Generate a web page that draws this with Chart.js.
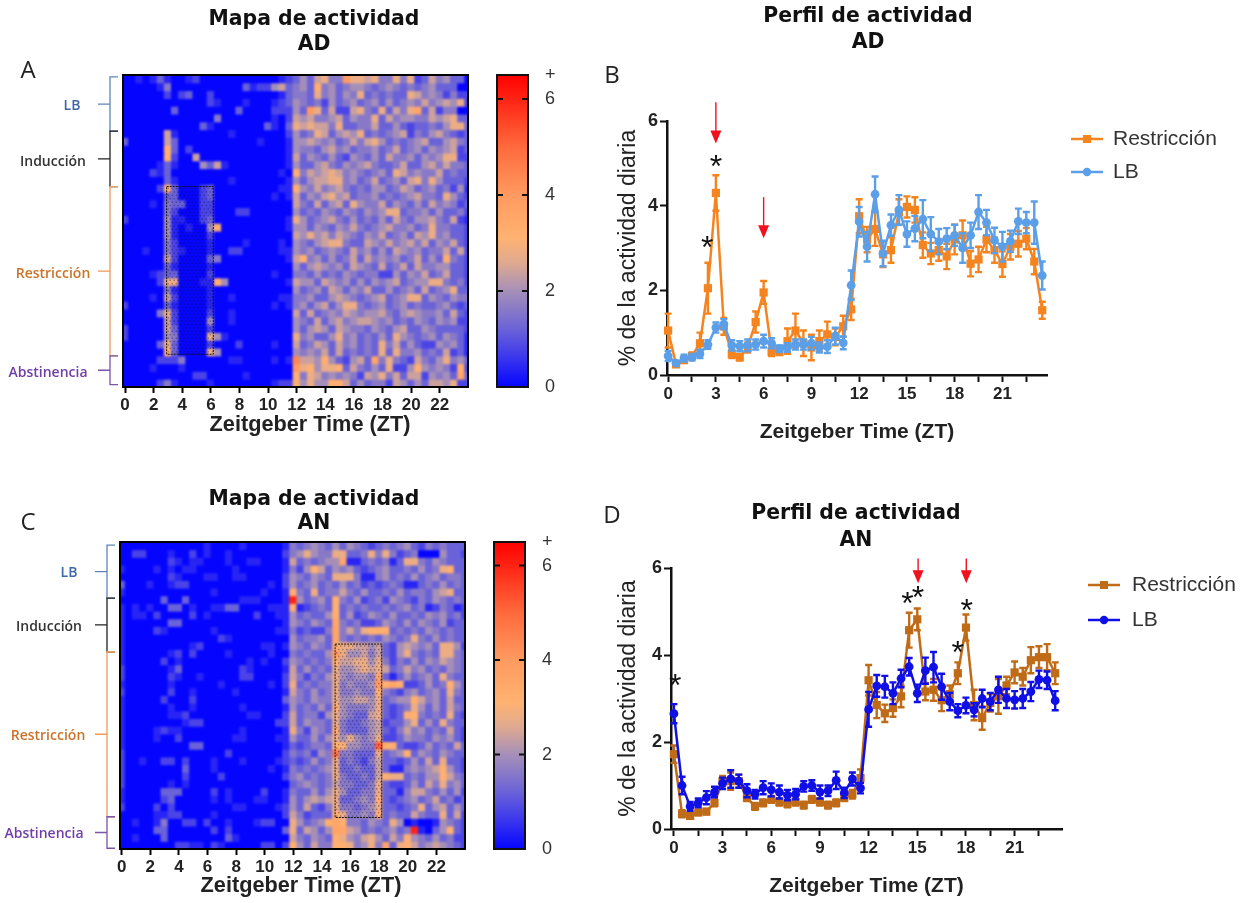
<!DOCTYPE html>
<html>
<head>
<meta charset="utf-8">
<script src="https://cdn.jsdelivr.net/npm/chart.js@4"></script>
<style>
html,body{margin:0;padding:0;background:#fff;overflow:hidden}
#page{position:relative;width:1247px;height:903px;filter:blur(.45px)}
canvas{position:absolute}
.t{position:absolute;white-space:nowrap;transform:translate(-50%,-50%);color:#111;line-height:1}
.title{font:bold 20.4px "DejaVu Sans"}
.panel{font:24px "Open Sans";color:#222}
.grp{font:600 14px "Open Sans"}
</style>
</head>
<body>
<div id="page">
<div class="t title" style="left:314px;top:18px">Mapa de actividad</div>
<div class="t title" style="left:314px;top:43px">AD</div>
<div class="t title" style="left:868px;top:15px">Perfil de actividad</div>
<div class="t title" style="left:868px;top:41px">AD</div>
<div class="t title" style="left:314px;top:498px">Mapa de actividad</div>
<div class="t title" style="left:314px;top:522px">AN</div>
<div class="t title" style="left:856px;top:512px">Perfil de actividad</div>
<div class="t title" style="left:856px;top:539px">AN</div>
<div class="t panel" style="left:28px;top:68px">A</div>
<div class="t panel" style="left:612px;top:73px">B</div>
<div class="t panel" style="left:28px;top:520px">C</div>
<div class="t panel" style="left:612px;top:513px">D</div>
<div class="t grp" style="left:72px;top:104px;color:#3f66a6">LB</div>
<div class="t grp" style="left:53px;top:160px;color:#333">Inducción</div>
<div class="t grp" style="left:53px;top:272px;color:#c8742a">Restricción</div>
<div class="t grp" style="left:48px;top:371px;color:#6f3fa5">Abstinencia</div>
<div class="t grp" style="left:69px;top:571px;color:#3f66a6">LB</div>
<div class="t grp" style="left:49px;top:625px;color:#333">Inducción</div>
<div class="t grp" style="left:48px;top:734px;color:#c8742a">Restricción</div>
<div class="t grp" style="left:44px;top:832px;color:#6f3fa5">Abstinencia</div>
<canvas id="heatA"></canvas>
<canvas id="barA"></canvas>
<canvas id="lineB"></canvas>
<canvas id="heatC"></canvas>
<canvas id="barC"></canvas>
<canvas id="lineD"></canvas>
</div>
<script>
// half-hour bins, the first and last bin are cut by the frame
const heatHours = [0,.5,1,1.5,2,2.5,3,3.5,4,4.5,5,5.5,6,6.5,7,7.5,8,8.5,9,9.5,10,10.5,11,11.5,12,12.5,13,13.5,14,14.5,15,15.5,16,16.5,17,17.5,18,18.5,19,19.5,20,20.5,21,21.5,22,22.5,23,23.5,24];
const heatTicks = [0,2,4,6,8,10,12,14,16,18,20,22];

// one hex digit per cell, digit x 0.4 = % of daily activity
const heatARows = [
"001013 100120 000000 000012 3536744a776744 7472364 5 3 3",
"000001 400000 000003 122563 4538453455434 5434 3 4 5 3 3 3",
"000000 202300 200000 000013 4437453547343 4 3 3 7 6 4 5 4 2 4 2 2",
"000000 000000 210001 000123 5434253453453 5 3 4 5 4 6 4 5 6 5 7 2",
"000000 030000 000030 000222 53a7362267437 3 6 4 7 9 3 6 2 4 4 0 0",
"000000 000000 040000 000102 6564456354473 6 4 5 5 4 4 6 5 6 7 3 3",
"000000 000003 100000 003103 7676647334463 3 5 3 2 3 3 4 3 5 7 7 3",
"000000 610000 000100 000002 5347635657343 4 5 6 2 4 3 5 6 4 3 2 3",
"300000 630000 000000 010001 5565453464675 3 4 3 4 5 6 3 3 5 6 4 3",
"000000 830200 000000 000001 5443564534453 4 6 3 4 5 3 5 4 5 6 2 3",
"000000 820060 000000 000001 6354353254353 6 4 4 5 3 5 4 5 7 7 2 2",
"000001 310005 361000 000001 5335643545643 3 4 6 3 3 5 6 4 6 4 4 3",
"000021 300000 000000 000010 8465676454345 3 7 6 4 5 4 4 6 3 4 3 3",
"000000 310000 000100 000001 5356677453463 4 5 3 6 7 4 7 5 3 3 3 2",
"000002 830002 300000 000011 8546456434355 3 4 6 5 3 4 5 3 4 2 5 1",
"000000 330002 300000 000101 6354675634453 4 3 4 5 6 4 4 3 7 5 3 2",
"000010 433002 200000 000000 6436356375446 3 5 4 3 5 3 6 4 5 4 2 3",
"000000 420002 200022 000000 5343543543545 7 7 3 4 4 5 3 5 3 3 4 2",
"200000 511002 300000 000001 7534564353435 3 6 4 3 5 5 6 4 3 6 2 1",
"000000 510100 580000 000001 5535435464345 6 4 4 5 3 4 7 4 4 3 3 2",
"000000 510000 200000 000000 6575646543546 3 4 5 3 6 5 7 4 5 3 3 2",
"000000 420000 100001 000010 5435677433654 6 4 5 6 4 6 3 5 4 6 3 2",
"000100 421000 100220 000011 5453454364535 3 6 5 4 5 3 4 4 6 3 6 2",
"000000 620000 340000 000001 6845353463645 4 5 3 4 6 3 5 3 8 4 3 2",
"000000 310000 100000 000000 5356545365436 3 4 6 3 6 4 4 5 5 3 3 2",
"000012 330000 200000 000100 4435343543442 2 5 3 5 4 6 3 4 6 3 3 2",
"000002 770001 185000 000001 6553654535354 5 6 3 4 5 5 7 7 4 3 4 2",
"000000 410000 100000 000000 5345365354633 5 3 4 5 3 6 3 4 5 7 3 3",
"000010 620000 100100 000011 4453356543456 3 4 5 7 7 3 5 4 3 5 4 4",
"200000 310000 100000 000101 4535635774345 3 4 5 3 4 3 3 4 5 3 2 3",
"000004 720000 200100 000000 6363454654556 4 3 5 6 5 4 4 5 3 6 3 2",
"000000 620000 500100 000000 5436356456654 5 3 4 3 5 4 3 5 4 5 2 2",
"200000 630000 200000 000000 5356536544354 3 5 6 3 3 5 4 3 3 3 3 2",
"200000 540000 751000 000000 7453357453435 3 7 5 4 3 4 5 3 5 4 3 1",
"000003 730000 200020 000100 6346536453437 4 6 3 5 3 2 2 5 4 5 3 1",
"000000 830000 750000 000000 5454636343437 3 7 4 4 5 3 4 3 6 2 3 1",
"000002 224000 000110 000101 b665853256394 7 4 3 2 6 4 3 5 7 4 5 3",
"000010 001000 000000 000000 a785778364353 7 2 2 5 8 5 4 5 4 2 8 2",
"000000 000022 000001 000000 8476454542657 4 6 3 6 6 2 5 4 5 3 9 3",
"000002 410000 100000 000122 8575588635344 2 6 5 3 5 3 6 6 5 7 2 2"
];
const heatCRows = [
"000000 000000 100001 000001 4345435354323 4 3 4 5 3 2 4 3 4 3 3 3",
"002200 010020 100100 000002 4575447733474 7 4 2 3 4 0 0 0 5 3 3 2",
"000000 021011 000100 110001 6343455911343 4 1 3 7 7 4 3 5 4 3 3 3",
"100001 010110 000010 000001 4258635453234 5 3 3 4 3 5 3 4 7 8 3 3",
"000000 021000 110011 000002 5435437774114 5 3 4 3 5 3 4 5 3 4 4 3",
"300010 012200 000000 000102 5345343534232 3 4 3 1 1 3 4 3 5 3 4 3",
"100000 000000 010000 001001 8437344643533 4 3 5 3 4 4 3 5 6 7 3 3",
"000000 300300 000001 110001 f534538435234 2 5 4 3 2 4 3 5 4 3 4 3",
"101010 033010 011330 000111 8123438343433 4 3 4 5 3 4 1 2 4 3 1 2",
"101102 000020 100000 020011 5343358352354 3 5 3 3 4 3 5 4 5 3 4 2",
"100000 033000 000000 000001 5435439434223 5 4 3 5 3 5 4 3 5 2 3 3",
"100002 100000 010000 000011 4232249464788 8 3 4 3 4 3 5 4 3 4 3 3",
"100000 000000 002100 000000 5344539434343 5 4 3 4 7 4 3 5 3 4 3 3",
"100000 000012 000000 001101 5435438776656 3 2 5 6 5 4 5 3 7 7 5 2",
"100000 012020 000100 000100 434335a755646 3 2 5 7 4 3 4 3 7 7 4 3",
"100000 201000 000000 101002 5434348667757 4 2 4 3 5 3 5 4 6 5 4 3",
"200000 013000 000002 100001 6353437556767 6 3 4 6 4 5 3 4 3 5 4 3",
"200000 021001 000002 200002 6424357545549 3 1 3 5 3 4 5 3 7 4 3 3",
"100000 010000 001000 000102 734344745445a 8 9 8 2 2 3 5 3 4 8 5 3",
"200000 020010 000010 000001 6435347445448 4 3 2 4 5 3 4 5 3 7 4 3",
"100000 200020 000000 000003 5435447556657 3 4 5 5 8 6 4 5 3 6 3 3",
"100000 010010 000001 000001 5343538544457 3 2 3 4 7 5 3 5 3 6 4 3",
"100000 011200 000000 110002 6344257543367 3 2 3 8 8 4 3 4 3 7 3 2",
"100000 000122 000000 000022 6354437433456 2 3 3 5 7 3 5 3 7 4 3 3",
"100001 211000 000001 000001 7425438433356 3 2 4 6 4 5 3 4 3 6 3 2",
"100001 002000 000011 000011 5335357575457 2 2 3 5 4 4 3 5 4 5 3 2",
"100000 000033 000000 000001 323443885544d 8 8 3 2 2 3 5 3 4 3 6 3",
"200000 000000 000200 000002 434254c443337 3 4 5 8 3 5 4 3 5 4 3 3",
"200100 220200 010001 000012 3235347343246 3 3 2 3 5 3 6 3 7 3 3 2",
"200000 000300 010000 000101 4343457334336 3 1 1 4 5 4 5 6 8 5 3 2",
"200000 000200 002000 000002 4534347433436 8 7 7 3 4 3 5 5 8 6 4 3",
"200000 010100 000000 000000 3454346443347 3 2 2 3 5 3 6 4 7 4 5 3",
"100000 333000 020100 002001 4335357533447 3 3 1 4 6 6 4 3 5 3 5 2",
"100000 230000 010100 011001 5356567334548 3 2 3 4 5 3 4 6 3 4 2 3",
"200002 020000 000011 000012 5363247443457 3 3 2 3 4 7 3 5 6 3 5 3",
"000001 122000 010000 000002 6423338744548 3 4 3 3 6 4 3 3 7 3 6 2",
"001001 400220 200100 012200 7534589844354 3 7 5 0 1 0 0 1 5 4 3 2",
"000003 300000 020200 000003 7365359965343 4 5 3 4 f 1 0 3 5 8 3 2",
"001000 300000 000310 000000 6435438754675 3 6 4 8 5 4 3 5 3 4 2 2",
"000000 002211 021000 002202 8536448874574 9 3 7 8 6 4 5 6 5 4 3 2"
];
const rampStops = [0,.6,1.2,2,2.6,3.1,4,5,6.5];
const rampColors = ['#0505ff','#3a35ee','#6a62d8','#a58fb8','#e0aa90','#ffb271','#ff9a60','#ff6a3c','#ff0000'];
const barTicks = [0,2,4,6,6.5];

// row limits of the LB / Induccion / Restriccion / Abstinencia brackets
const groupColors = ['#5c86b8','#222222','#ee9a58','#7a55a8'];
const groupRowsA = [[.25,7.2],[7.2,14.3],[14.3,36],[36,39.7]];
const groupRowsC = [[.4,7.3],[7.3,14.3],[14.3,35.8],[35.8,39.9]];
const boxA = {x:[2.91,6.17],row:[14.3,35.8]};
const boxC = {x:[14.92,18.18],row:[13.3,35.9]};

const ztHours = [0,.5,1,1.5,2,2.5,3,3.5,4,4.5,5,5.5,6,6.5,7,7.5,8,8.5,9,9.5,10,10.5,11,11.5,12,12.5,13,13.5,14,14.5,15,15.5,16,16.5,17,17.5,18,18.5,19,19.5,20,20.5,21,21.5,22,22.5,23,23.5];
const ztTicks = [0,1.5,3,4.5,6,7.5,9,10.5,12,13.5,15,16.5,18,19.5,21,22.5];

const resB = [1.05,.25,.35,.45,.75,2.05,4.3,1.15,.5,.42,.65,1.25,1.95,.55,.55,.8,1.05,.75,.65,.8,.96,.9,1.15,1.55,3.75,3.2,3.45,2.85,2.95,3.85,3.97,3.9,3.07,2.87,2.95,2.8,3.2,3.3,2.63,2.73,3.2,2.95,2.62,3.03,3.1,3.22,2.68,1.53];
const resBErr = [.4,.05,.06,.08,.25,.6,.42,.2,.1,.08,.12,.25,.27,.1,.08,.3,.4,.3,.3,.25,.3,.2,.25,.25,.4,.3,.4,.3,.3,.3,.25,.3,.3,.25,.25,.3,.35,.35,.3,.3,.3,.3,.3,.3,.3,.25,.3,.2];
const lbB = [.45,.28,.4,.42,.5,.72,1.12,1.2,.7,.68,.7,.72,.8,.75,.62,.65,.72,.72,.75,.65,.67,.92,.76,2.12,3.62,3.03,4.27,2.87,3.54,3.9,3.33,3.46,3.68,3.33,3.15,3.22,3.3,3,3.3,3.85,3.6,3.18,3.03,3.16,3.63,3.6,3.6,2.35];
const lbBErr = [.12,.05,.08,.08,.1,.1,.12,.12,.12,.12,.14,.12,.15,.12,.08,.1,.12,.12,.15,.12,.15,.2,.15,.35,.35,.35,.42,.3,.25,.35,.3,.3,.45,.4,.3,.25,.25,.35,.3,.4,.3,.3,.35,.25,.3,.25,.5,.33];
const resD = [1.72,.35,.3,.38,.4,.6,1.1,1.1,1.1,.72,.52,.6,.68,.62,.58,.62,.55,.68,.62,.55,.6,.72,.8,1.17,3.42,2.85,2.66,2.78,3.05,4.57,4.82,3.16,3.2,2.96,3.1,3.58,4.63,2.85,2.55,2.9,3.05,3.3,3.6,3.5,3.88,3.95,3.95,3.58];
const resDErr = [.2,.08,.06,.06,.06,.08,.12,.2,.15,.08,.08,.08,.08,.08,.08,.08,.08,.08,.08,.08,.08,.08,.1,.2,.35,.3,.2,.2,.25,.4,.25,.2,.25,.25,.2,.25,.3,.35,.27,.2,.4,.2,.25,.2,.3,.25,.3,.25];
const lbD = [2.65,1,.52,.6,.72,.85,1.05,1.15,1.1,.88,.8,.95,.9,.85,.78,.8,.98,1,.85,.88,1.12,.83,1.15,.94,2.75,3.29,3.27,3.12,3.46,3.73,3.12,3.64,3.72,3.27,2.93,2.72,2.84,2.74,3,2.93,3.2,3,2.97,3,3.16,3.44,3.42,2.95];
const lbDErr = [.22,.2,.1,.1,.15,.12,.13,.2,.15,.15,.1,.15,.15,.15,.12,.12,.12,.12,.15,.12,.2,.12,.15,.12,.4,.25,.25,.25,.2,.2,.2,.3,.35,.3,.2,.15,.18,.15,.2,.2,.3,.22,.2,.22,.22,.2,.2,.22];

// hour, value: annotation marks
const arrowsB = [[3,6.44,5.47],[6,4.2,3.23]];
const starsB = [[3,5.06],[2.45,3.13]];
const arrowsD = [[15.05,6.22,5.65],[18.02,6.22,5.65]];
const starsD = [[.08,3.42],[14.4,5.3],[15.05,5.44],[18.05,5.16],[17.5,4.18]];

const cellValue = ch => parseInt(ch,16)*.4;
const parseRows = rows => rows.map(r => r.replace(/ /g,'').split('').map(cellValue));

function hex2rgb(h){ return [1,3,5].map(i => parseInt(h.substr(i,2),16)); }
function rampColor(v){
    let i = 0;
    while (i < rampStops.length-2 && v > rampStops[i+1]) i++;
    const t = Math.min(1,(v-rampStops[i])/(rampStops[i+1]-rampStops[i]));
    const a = hex2rgb(rampColors[i]), b = hex2rgb(rampColors[i+1]);
    return 'rgb(' + a.map((c,k) => Math.round(c+(b[k]-c)*t)).join(',') + ')';
}

function place(id,x,y,w,h){
    const c = document.getElementById(id);
    c.width = w; c.height = h;
    c.style.left = x+'px'; c.style.top = y+'px';
    c.style.width = w+'px'; c.style.height = h+'px';
    return c;
}

const tickFont = {family:'"Liberation Sans"',size:17,weight:'bold'};
const labelFont = {family:'"Liberation Sans"',size:21,weight:'bold'};

function heatChart(id,rows,o){
    const canvas = place(id,0,o.top-15,490,o.bottom-o.top+90);
    const h = canvas.height, w = canvas.width;
    const decor = {
        id:'heatDecor',
        afterDatasetsDraw(chart){
            // the source map is a soft, resampled image
            const {ctx,chartArea:a} = chart;
            const aw = a.right-a.left, ah = a.bottom-a.top;
            ctx.save();
            ctx.beginPath(); ctx.rect(a.left,a.top,aw,ah); ctx.clip();
            ctx.filter = 'blur(.8px)';
            ctx.drawImage(canvas,a.left,a.top,aw,ah,a.left,a.top,aw,ah);
            ctx.restore();
        },
        afterDraw(chart){
            const {ctx,chartArea:a,scales:{x,y}} = chart;
            ctx.save();
            // dotted box of the restriction window
            const bx = x.getPixelForValue(o.box.x[0]), bw = x.getPixelForValue(o.box.x[1])-bx;
            const by = y.getPixelForValue(o.box.row[0]), bh = y.getPixelForValue(o.box.row[1])-by;
            ctx.fillStyle = 'rgba(20,10,40,.38)';
            let odd = false;
            for (let py = by+2; py < by+bh; py += 3.4) {
                for (let px = bx+(odd?3.6:1.6); px < bx+bw; px += 4) {
                    ctx.beginPath(); ctx.arc(px,py,.8,0,Math.PI*2); ctx.fill();
                }
                odd = !odd;
            }
            ctx.strokeStyle = '#111'; ctx.lineWidth = 1; ctx.setLineDash([2,1]);
            ctx.strokeRect(bx,by,bw,bh);
            ctx.setLineDash([]);
            // frame
            ctx.strokeStyle = '#000'; ctx.lineWidth = 2;
            ctx.strokeRect(a.left,a.top,a.right-a.left,a.bottom-a.top);
            // brackets
            ctx.lineWidth = 1.3;
            o.groups.forEach((g,i) => {
                const y0 = y.getPixelForValue(g[0]), y1 = y.getPixelForValue(g[1]), sx = a.left-13;
                ctx.strokeStyle = groupColors[i];
                ctx.beginPath();
                ctx.moveTo(sx+8,y0); ctx.lineTo(sx,y0); ctx.lineTo(sx,y1); ctx.lineTo(sx+8,y1);
                ctx.moveTo(sx,(y0+y1)/2); ctx.lineTo(sx-12,(y0+y1)/2);
                ctx.stroke();
            });
            // axis name sits right of the plot centre
            ctx.fillStyle = '#222';
            ctx.font = 'bold 21.7px "Liberation Sans"';
            ctx.textAlign = 'center'; ctx.textBaseline = 'middle';
            ctx.fillText('Zeitgeber Time (ZT)',o.labelX,o.labelY-(o.top-15));
            ctx.restore();
        }
    };
    return new Chart(canvas,{
        type:'bar',
        data:{datasets:rows.map((row,r) => ({
            data:heatHours.map((hr,c) => ({x:hr,y:[r,r+1]})),
            backgroundColor:row.map(rampColor),
            grouped:false,barPercentage:1,categoryPercentage:1,borderWidth:0,inflateAmount:.5
        }))},
        options:{
            responsive:false,animation:false,
            layout:{padding:{left:o.left,top:15,right:w-o.right,bottom:h-(o.bottom-o.top+15)-30}},
            plugins:{legend:{display:false},tooltip:{enabled:false},title:{display:false}},
            scales:{
                x:{type:'linear',min:o.min,max:o.max,offset:false,
                    afterBuildTicks:s => { s.ticks = heatTicks.map(v => ({value:v})); },
                    afterFit:s => { s.height = 30; },
                    grid:{offset:false,drawOnChartArea:false,tickLength:6,tickColor:'#000',tickWidth:2},
                    border:{color:'#000',width:2},
                    ticks:{font:tickFont,color:'#222',maxRotation:0,autoSkip:false,padding:2,callback:v => String(v)}},
                y:{display:false,reverse:true,min:0,max:40}
            }
        },
        plugins:[decor]
    });
}

function colorBar(id,x0,top,bottom){
    const canvas = place(id,x0-10,top-40,70,bottom-top+80);
    const marks = {
        id:'barMarks',
        afterDraw(chart){
            const {ctx,chartArea:a,scales:{y}} = chart;
            ctx.save();
            ctx.strokeStyle = '#111'; ctx.lineWidth = 2;
            ctx.strokeRect(a.left,a.top,a.right-a.left,a.bottom-a.top);
            [2,4,6].forEach(v => {
                const py = y.getPixelForValue(v);
                ctx.beginPath();
                ctx.moveTo(a.left,py); ctx.lineTo(a.left+6,py);
                ctx.moveTo(a.right,py); ctx.lineTo(a.right-6,py);
                ctx.stroke();
            });
            ctx.restore();
        }
    };
    return new Chart(canvas,{
        type:'bar',
        data:{labels:[''],datasets:[{
            data:[[0,6.5]],barPercentage:1,categoryPercentage:1,borderWidth:0,
            backgroundColor(c){
                const {chartArea:a,scales:{y}} = c.chart;
                if (!a) return rampColors[0];
                const g = c.chart.ctx.createLinearGradient(0,y.getPixelForValue(0),0,y.getPixelForValue(6.5));
                rampStops.forEach((s,i) => g.addColorStop(s/6.5,rampColors[i]));
                return g;
            }
        }]},
        options:{
            responsive:false,animation:false,
            layout:{padding:{left:10,top:40,right:0,bottom:40}},
            plugins:{legend:{display:false},tooltip:{enabled:false}},
            scales:{
                x:{display:false},
                y:{position:'right',min:0,max:6.5,
                    afterBuildTicks:s => { s.ticks = barTicks.map(v => ({value:v})); },
                    afterFit:s => { s.width = 29; },
                    grid:{display:false},border:{display:false},
                    ticks:{font:{family:'"Liberation Sans"',size:18},color:'#333',padding:9,autoSkip:false,
                        callback:v => v === 6.5 ? '+' : String(v)}}
            }
        },
        plugins:[marks]
    });
}

function lineChart(id,o){
    const top = o.top-45, h = o.bottom-top+75, w = 1247-600;
    const canvas = place(id,600,top,w,h);
    const decor = {
        id:'lineDecor',
        afterDatasetDraw(chart,args){
            // error bars in the colour of their series
            const ds = chart.data.datasets[args.index];
            const {ctx,scales:{x,y}} = chart;
            ctx.save();
            ctx.strokeStyle = ds.borderColor; ctx.lineWidth = 2.4;
            ds.errors.forEach((e,i) => {
                const px = x.getPixelForValue(ds.data[i].x);
                const hi = y.getPixelForValue(ds.data[i].y+e), lo = y.getPixelForValue(ds.data[i].y-e);
                ctx.beginPath();
                ctx.moveTo(px,hi); ctx.lineTo(px,lo);
                ctx.moveTo(px-3.5,hi); ctx.lineTo(px+3.5,hi);
                ctx.moveTo(px-3.5,lo); ctx.lineTo(px+3.5,lo);
                ctx.stroke();
            });
            ctx.restore();
        },
        afterDraw(chart){
            const {ctx,scales:{x,y}} = chart;
            ctx.save();
            o.arrows.forEach(a => {
                const px = x.getPixelForValue(a[0]), p0 = y.getPixelForValue(a[1]), p1 = y.getPixelForValue(a[2]);
                ctx.strokeStyle = ctx.fillStyle = '#f0101e'; ctx.lineWidth = 1.4;
                ctx.beginPath(); ctx.moveTo(px,p0); ctx.lineTo(px,p1-8); ctx.stroke();
                ctx.beginPath(); ctx.moveTo(px-5.5,p1-13); ctx.lineTo(px+5.5,p1-13); ctx.lineTo(px,p1); ctx.closePath(); ctx.fill();
            });
            ctx.fillStyle = '#111';
            ctx.font = '32px "Liberation Sans"';
            ctx.textAlign = 'center'; ctx.textBaseline = 'alphabetic';
            o.stars.forEach(s => {
                const m = ctx.measureText('*');
                ctx.fillText('*',x.getPixelForValue(s[0]),y.getPixelForValue(s[1])+(m.actualBoundingBoxAscent-m.actualBoundingBoxDescent)/2);
            });
            // legend: short line with marker, then the name
            ctx.font = o.legendFont;
            ctx.textAlign = 'left'; ctx.textBaseline = 'middle';
            chart.data.datasets.forEach((ds,i) => {
                const ly = o.legendY[i]-top, lx = o.legendX-600;
                ctx.strokeStyle = ctx.fillStyle = ds.borderColor; ctx.lineWidth = 2.5;
                ctx.beginPath(); ctx.moveTo(lx,ly); ctx.lineTo(lx+32,ly); ctx.stroke();
                ctx.beginPath();
                if (ds.pointStyle === 'rect') ctx.rect(lx+12,ly-4,8,8); else ctx.arc(lx+16,ly,4.2,0,Math.PI*2);
                ctx.fill();
                ctx.fillStyle = '#333';
                ctx.fillText(ds.label,lx+o.legendGap,ly);
            });
            ctx.restore();
        }
    };
    const series = (label,vals,errs,color,style,order) => ({
        label,order,errors:errs,
        data:ztHours.map((hr,i) => ({x:hr,y:vals[i]})),
        borderColor:color,backgroundColor:color,borderWidth:2.5,tension:0,
        pointStyle:style,pointRadius:style === 'rect' ? 5.8 : 4.4,pointBorderWidth:0,clip:false
    });
    return new Chart(canvas,{
        type:'line',
        data:{datasets:[
            series('Restricción',o.res,o.resErr,o.resColor,'rect',1),
            series('LB',o.lb,o.lbErr,o.lbColor,'circle',0)
        ]},
        options:{
            responsive:false,animation:false,
            layout:{padding:{left:15,top:45,right:w-(o.right-600),bottom:5}},
            plugins:{legend:{display:false},tooltip:{enabled:false}},
            scales:{
                x:{type:'linear',min:o.min,max:o.max,
                    afterBuildTicks:s => { s.ticks = ztTicks.map(v => ({value:v})); },
                    afterFit:s => { s.height = 70; },
                    grid:{drawOnChartArea:false,tickLength:7,tickColor:'#111',tickWidth:2},
                    border:{color:'#111',width:2.5},
                    title:{display:true,text:'Zeitgeber Time (ZT)',font:labelFont,color:'#222',padding:{top:6,bottom:0}},
                    ticks:{font:tickFont,color:'#222',maxRotation:0,autoSkip:false,padding:2,
                        callback:v => v % 3 === 0 ? String(v) : ''}},
                y:{min:0,max:6,
                    afterFit:s => { s.width = o.left-600-15; },
                    grid:{drawOnChartArea:false,tickLength:7,tickColor:'#111',tickWidth:2},
                    border:{color:'#111',width:2.5},
                    title:{display:true,text:'% de la actividad diaria',font:{family:'"Liberation Sans"',size:23},color:'#222',padding:{top:0,bottom:0}},
                    ticks:{stepSize:2,font:{family:'"Liberation Sans"',size:18,weight:'bold'},color:'#222',padding:2}}
            }
        },
        plugins:[decor]
    });
}

heatChart('heatA',parseRows(heatARows),{left:123,right:468,top:75,bottom:387,min:-.14,max:23.97,box:boxA,groups:groupRowsA,labelX:310,labelY:425});
colorBar('barA',497,75,387);
lineChart('lineB',{left:667,right:1047,top:121,bottom:375,min:-.07,max:23.8,res:resB,resErr:resBErr,lb:lbB,lbErr:lbBErr,
    resColor:'#f5841f',lbColor:'#5b9fe8',arrows:arrowsB,stars:starsB,legendX:1071,legendY:[139,172],legendGap:42,legendFont:'21px "Liberation Sans"'});
heatChart('heatC',parseRows(heatCRows),{left:120,right:465,top:542,bottom:849,min:-.12,max:24,box:boxC,groups:groupRowsC,labelX:301,labelY:886});
colorBar('barC',494,542,849);
lineChart('lineD',{left:671,right:1062,top:568,bottom:829,min:-.18,max:23.92,res:resD,resErr:resDErr,lb:lbD,lbErr:lbDErr,
    resColor:'#bf6b17',lbColor:'#0f0fe6',arrows:arrowsD,stars:starsD,legendX:1088,legendY:[585,620],legendGap:44,legendFont:'21px "Liberation Sans"'});
</script>
</body>
</html>
